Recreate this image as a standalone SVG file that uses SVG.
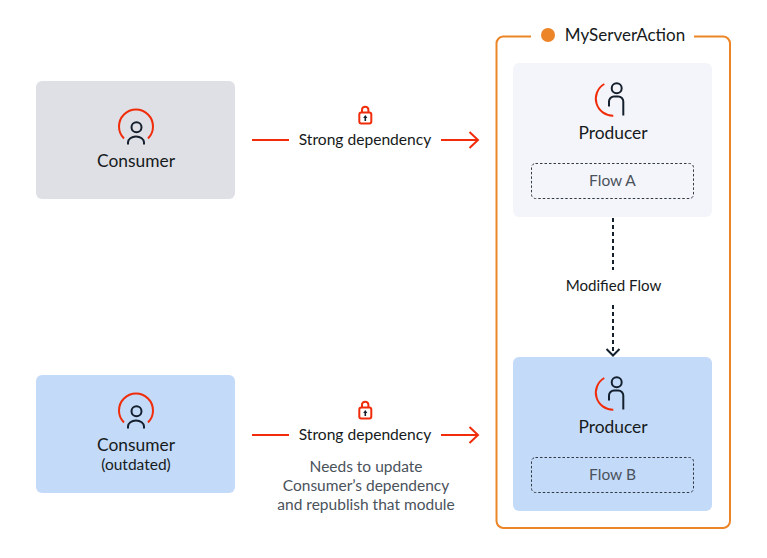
<svg xmlns="http://www.w3.org/2000/svg" width="767" height="558" viewBox="0 0 767 558">
<defs>
<style>
text{font-family:"Lato","Noto Sans",sans-serif;text-anchor:middle}
.t{font-size:17.4px;fill:#161a20}
.d{font-size:15.6px;fill:#161a20}
.s{font-size:15.1px;fill:#161a20}
.o{font-size:15.5px;fill:#161a20}
.g{font-size:15.5px;fill:#4a525c}
.red{fill:none;stroke:#f02c0a;stroke-width:2}
.dark{fill:none;stroke:#14202e;stroke-width:2}
.flow{fill:none;stroke:#333a44;stroke-width:1;stroke-dasharray:2.5 2}
</style>
<g id="consumerIcon">
<path class="red" d="M-12 11.500A17 17 0 1 1 12 11.500"/>
<circle class="dark" cx="0.500" cy="0.300" r="5"/>
<path class="dark" d="M-8 17.500V15.500A8 6 0 0 1 8 15.500V17.500"/>
</g>
<g id="producerIcon">
<path class="red" d="M-8.700 -15A17 17 0 0 0 0.300 16.700"/>
<circle class="dark" cx="3.700" cy="-10.700" r="5"/>
<path class="dark" d="M-4 7.500V2.500A5 5 0 0 1 1 -2.500H5.300A5 5 0 0 1 10.300 2.500V16.500"/>
</g>
<g id="lock">
<rect x="-5.700" y="-2.500" width="12" height="11" rx="2" fill="none" stroke="#f02c0a" stroke-width="2"/>
<path d="M-3 -2.500V-5.300A3.200 3 0 0 1 3.400 -5.300V-2.500" fill="none" stroke="#f02c0a" stroke-width="2"/>
<path d="M-0.500 6V3H-1.800L0.300 0L2.400 3H1.100V6Z" fill="#14202e"/>
</g>
</defs>
<rect width="767" height="558" fill="#fff"/>
<g id="connectors">
<path class="red" d="M252 140H289M441 140H478M469.500 132L478 140L469.500 148"/>
<path class="red" d="M252 435H289M441 435H478M469.500 427L478 435L469.500 443"/>
<path d="M613 218V270M613 305V352" fill="none" stroke="#14202e" stroke-width="2" stroke-dasharray="4 3"/>
<path d="M606.500 349L613 355.500L619.500 349" class="dark"/>
<text class="s" x="613.500" y="291">Modified Flow</text>
<use href="#lock" x="365" y="115"/>
<text class="d" x="365" y="145">Strong dependency</text>
<use href="#lock" x="365" y="410"/>
<text class="d" x="365" y="440">Strong dependency</text>
<text class="g" x="366" y="472">Needs to update</text>
<text class="g" x="366" y="491">Consumer’s dependency</text>
<text class="g" x="366" y="510">and republish that module</text>
</g>
<g id="myServerAction">
<path d="M531 36.500H503A7 7 0 0 0 496.500 43.500V521A7 7 0 0 0 503 528H723.500A7 7 0 0 0 730 521V43.500A7 7 0 0 0 723.500 36.500H694" fill="none" stroke="#ec8527" stroke-width="2"/>
<circle cx="548" cy="35" r="7" fill="#ec8527"/>
<text x="625" y="41" font-size="17" fill="#161a20">MyServerAction</text>
</g>
<g id="consumer1">
<rect x="36" y="81" width="199" height="118" rx="6" fill="#dfe0e5"/>
<use href="#consumerIcon" x="136" y="127"/>
<text class="t" x="136" y="167">Consumer</text>
</g>
<g id="consumer2">
<rect x="36" y="375" width="199" height="118" rx="6" fill="#c4daf9"/>
<use href="#consumerIcon" x="136" y="411"/>
<text class="t" x="136" y="451">Consumer</text>
<text class="o" x="136" y="470">(outdated)</text>
</g>
<g id="producerA">
<rect x="513" y="63" width="199" height="154" rx="6" fill="#f4f5fa"/>
<use href="#producerIcon" x="613" y="99"/>
<text class="t" x="613" y="139">Producer</text>
<rect class="flow" x="531.500" y="163.500" width="162" height="35" rx="4"/>
<text class="g" x="612.500" y="186">Flow A</text>
</g>
<g id="producerB">
<rect x="513" y="357" width="199" height="154" rx="6" fill="#c4daf9"/>
<use href="#producerIcon" x="613" y="393"/>
<text class="t" x="613" y="433">Producer</text>
<rect class="flow" x="531.500" y="457.500" width="162" height="35" rx="4"/>
<text class="g" x="612.500" y="480">Flow B</text>
</g>
</svg>
